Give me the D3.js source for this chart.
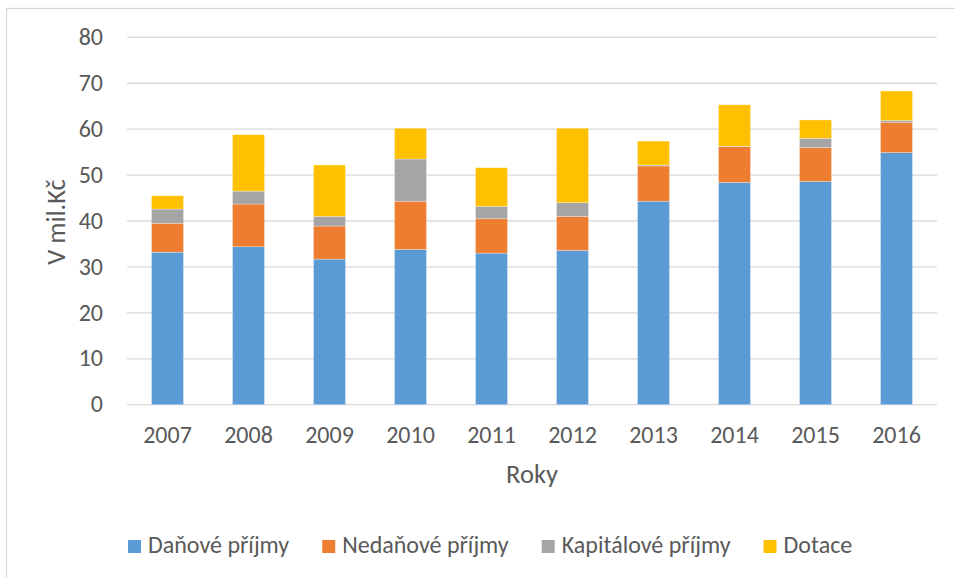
<!DOCTYPE html>
<html>
<head>
<meta charset="utf-8">
<script src="https://cdn.jsdelivr.net/npm/d3@7"></script>
<style>
  body { margin: 0; background: #fff; }
  text { font-family: Carlito, Calibri, Lato, sans-serif; fill: #595959; }
</style>
</head>
<body>
<div id="chart"></div>
<script>
// Data (mil. Kč)
var years = ["2007", "2008", "2009", "2010", "2011", "2012", "2013", "2014", "2015", "2016"];
var seriesNames = ["Daňové příjmy", "Nedaňové příjmy", "Kapitálové příjmy", "Dotace"];
var danove = [33.2, 34.4, 31.7, 33.8, 33.0, 33.6, 44.3, 48.4, 48.6, 54.9];
var nedanove = [6.3, 9.3, 7.2, 10.5, 7.5, 7.4, 7.7, 7.8, 7.4, 6.6];
var kapitalove = [3.1, 2.8, 2.1, 9.2, 2.7, 3.0, 0.2, 0.1, 2.0, 0.4];
var dotace = [2.9, 12.3, 11.2, 6.7, 8.4, 16.2, 5.2, 9.0, 4.0, 6.4];
var yTicks = [0, 10, 20, 30, 40, 50, 60, 70, 80];
var colors = ["#5b9bd5", "#ed7d31", "#a5a5a5", "#ffc000"];

var W = 955, H = 578;
var margin = { top: 37.3, right: 18, bottom: 173.3, left: 127 },
    width = W - margin.left - margin.right,
    height = H - margin.top - margin.bottom;

var svg = d3.select("#chart")
    .append("svg")
    .attr("width", W)
    .attr("height", H);

// chart area border
svg.append("rect")
    .attr("x", 6.5).attr("y", 8.5)
    .attr("width", 1000).attr("height", 700)
    .attr("fill", "none")
    .attr("stroke", "#d9d9d9")
    .attr("stroke-width", 1.3);

var g = svg.append("g")
    .attr("transform", "translate(" + margin.left + "," + margin.top + ")");

// build rows for the stack
var rows = years.map(function (y, i) {
    return { year: y, d0: danove[i], d1: nedanove[i], d2: kapitalove[i], d3: dotace[i] };
});
var keys = ["d0", "d1", "d2", "d3"];
var stacked = d3.stack().keys(keys)(rows);

var x = d3.scaleBand()
    .domain(years)
    .range([0, width])
    .paddingInner(0.605)
    .paddingOuter(0.3025);

var y = d3.scaleLinear()
    .domain([0, 80])
    .range([height, 0]);

// gridlines
g.selectAll(".grid")
    .data(yTicks)
    .enter().append("line")
    .attr("x1", 0).attr("x2", width)
    .attr("y1", function (d) { return y(d); })
    .attr("y2", function (d) { return y(d); })
    .attr("stroke", "#d9d9d9")
    .attr("stroke-width", 1.3);

// y tick labels
g.selectAll(".ytick")
    .data(yTicks)
    .enter().append("text")
    .attr("x", -24)
    .attr("y", function (d) { return y(d) + 7.7; })
    .attr("text-anchor", "end")
    .style("font-size", "24px")
    .text(function (d) { return d; });

// bars
g.selectAll(".layer")
    .data(stacked)
    .enter().append("g")
    .attr("fill", function (d, i) { return colors[i]; })
    .selectAll("rect")
    .data(function (d) { return d; })
    .enter().append("rect")
    .attr("x", function (d) { return x(d.data.year); })
    .attr("width", x.bandwidth())
    .attr("y", function (d) { return y(d[1]); })
    .attr("height", function (d) { return y(d[0]) - y(d[1]); })
    .attr("stroke", "#fff")
    .attr("stroke-opacity", 0.35)
    .attr("stroke-width", 0.8);

// x labels
g.selectAll(".xtick")
    .data(years)
    .enter().append("text")
    .attr("x", function (d) { return x(d) + x.bandwidth() / 2; })
    .attr("y", height + 38.5)
    .attr("text-anchor", "middle")
    .style("font-size", "24px")
    .text(function (d) { return d; });

// axis titles
g.append("text")
    .attr("x", width / 2)
    .attr("y", height + 78.5)
    .attr("text-anchor", "middle")
    .style("font-size", "26.5px")
    .text("Roky");

svg.append("text")
    .attr("transform", "translate(65,222) rotate(-90)")
    .attr("text-anchor", "middle")
    .style("font-size", "26.5px")
    .text("V mil.Kč");

// legend
var legend = svg.append("g").attr("transform", "translate(128,0)");
var lx = 0;
seriesNames.forEach(function (name, i) {
    var item = legend.append("g").attr("transform", "translate(" + lx + ",0)");
    item.append("rect")
        .attr("x", 0).attr("y", 540)
        .attr("width", 13).attr("height", 13)
        .attr("fill", colors[i]);
    var t = item.append("text")
        .attr("x", 20).attr("y", 553)
        .style("font-size", "24px")
        .text(name);
    lx += 20 + t.node().getComputedTextLength() + 33;
});
</script>
</body>
</html>
